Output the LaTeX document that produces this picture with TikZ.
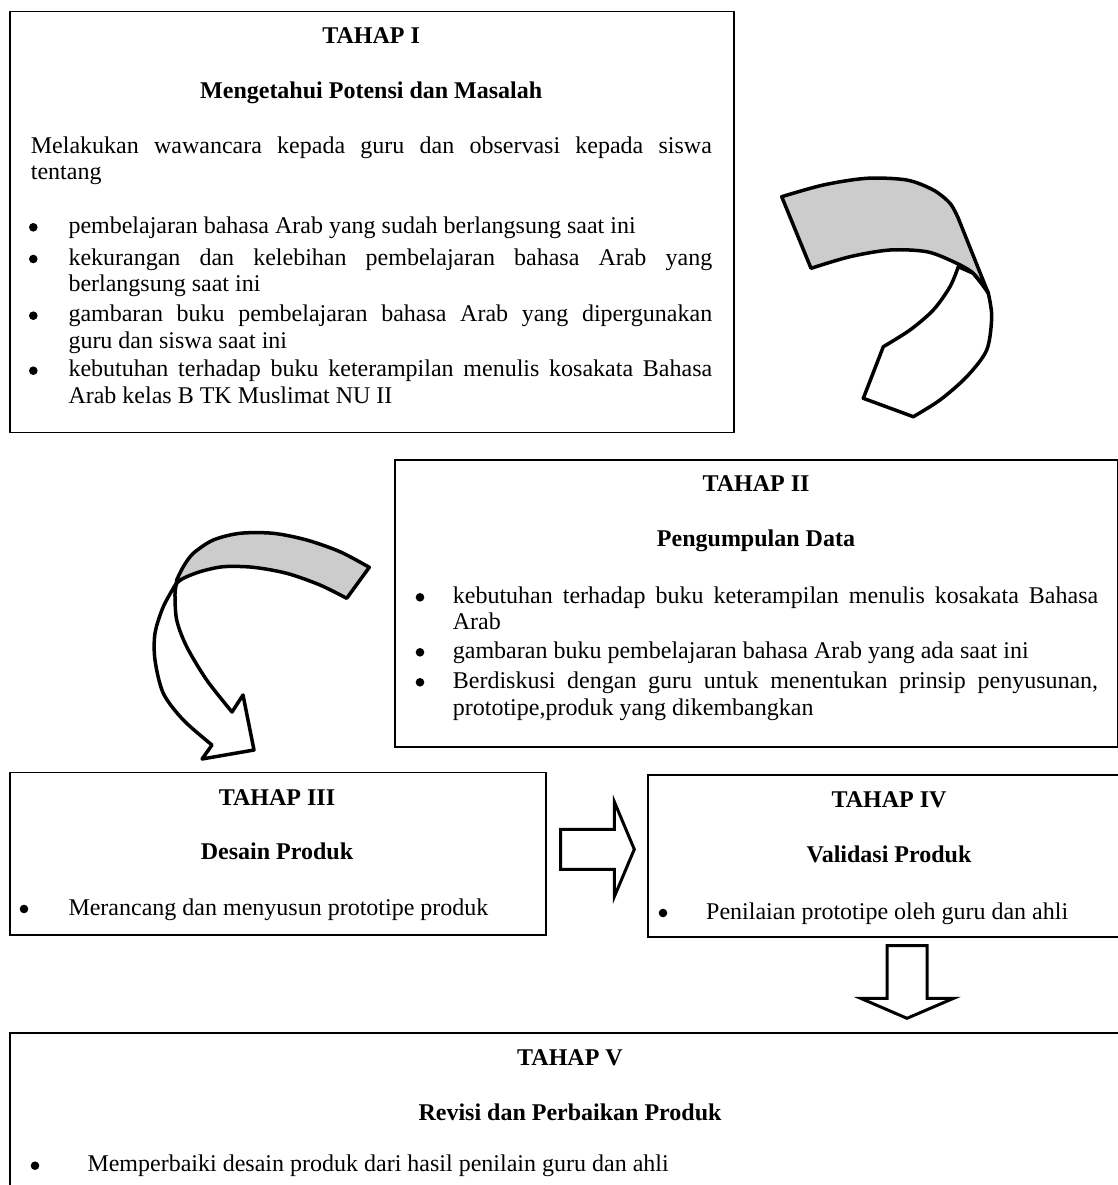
\documentclass[tikz,border=0pt]{standalone}
\usepackage{fontspec}
\setmainfont{Liberation Serif}
\definecolor{bandgray}{RGB}{204,204,204}
\newcommand\bodyfont{\fontsize{24}{26.7}\selectfont}
\begin{document}
\begin{tikzpicture}[x=1pt,y=-1pt,
 box/.style={draw, line width=1.5pt, inner sep=0, anchor=north west},
 txt/.style={inner sep=0, anchor=base west, font=\bodyfont},
 ttl/.style={inner sep=0, anchor=base, font=\bodyfont\bfseries},
 dot/.style={circle, fill, inner sep=0, minimum size=8.6pt},
 ribbon/.style={draw, line width=3.5pt, line join=round},
 blockarrow/.style={draw, line width=3pt, fill=white, line join=miter}]
\useasboundingbox (0,0) rectangle (1118,1185);
\clip (0,0) rectangle (1118,1185);

% ---------- TAHAP I ----------
\node[box, minimum width=723.7, minimum height=421] (b1) at (9.3,10.7) {};
\node[ttl] (t1a) at (371.2,44) {TAHAP I};
\node[ttl] (t1b) at (371.2,98.3) {Mengetahui Potensi dan Masalah};
\node[txt] (p1a) at (30.7,153.3) {\makebox[681pt][s]{Melakukan wawancara kepada guru dan observasi kepada siswa}};
\node[txt] (p1b) at (30.7,179.3) {tentang};
\node[dot] (u11) at (33.3,227.3) {};
\node[txt] (i11) at (68.3,233.3) {pembelajaran bahasa Arab yang sudah berlangsung saat ini};
\node[dot] (u12) at (33.3,259) {};
\node[txt] (i12a) at (68.3,265) {\makebox[643.7pt][s]{kekurangan dan kelebihan pembelajaran bahasa Arab yang}};
\node[txt] (i12b) at (68.3,291.7) {berlangsung saat ini};
\node[dot] (u13) at (33.3,315.7) {};
\node[txt] (i13a) at (68.3,321.7) {\makebox[643.7pt][s]{gambaran buku pembelajaran bahasa Arab yang dipergunakan}};
\node[txt] (i13b) at (68.3,348.3) {guru dan siswa saat ini};
\node[dot] (u14) at (33.3,370.7) {};
\node[txt] (i14a) at (68.3,376.7) {\makebox[643.7pt][s]{kebutuhan terhadap buku keterampilan menulis kosakata Bahasa}};
\node[txt] (i14b) at (68.3,403.3) {Arab kelas B TK Muslimat NU II};

% ---------- TAHAP II ----------
\node[box, minimum width=722.5, minimum height=287] (b2) at (394,459) {};
\node[ttl] (t2a) at (756,491.7) {TAHAP II};
\node[ttl] (t2b) at (756,546) {Pengumpulan Data};
\node[dot] (u21) at (420,597.3) {};
\node[txt] (i21a) at (452.7,603.3) {\makebox[645.3pt][s]{kebutuhan terhadap buku keterampilan menulis kosakata Bahasa}};
\node[txt] (i21b) at (452.7,629.3) {Arab};
\node[dot] (u22) at (420,652.3) {};
\node[txt] (i22) at (452.7,658.3) {gambaran buku pembelajaran bahasa Arab yang ada saat ini};
\node[dot] (u23) at (420,682.3) {};
\node[txt] (i23a) at (452.7,688.3) {\makebox[645.3pt][s]{Berdiskusi dengan guru untuk menentukan prinsip penyusunan,}};
\node[txt] (i23b) at (452.7,715) {prototipe,produk yang dikembangkan};

% ---------- TAHAP III ----------
\node[box, minimum width=535.7, minimum height=162.6] (b3) at (9.3,771.7) {};
\node[ttl] (t3a) at (277,805) {TAHAP III};
\node[ttl] (t3b) at (277,859) {Desain Produk};
\node[dot] (u31) at (24,909) {};
\node[txt] (i31) at (68.3,915) {Merancang dan menyusun prototipe produk};

% ---------- TAHAP IV ----------
\node[box, minimum width=484, minimum height=162] (b4) at (647,774) {};
\node[ttl] (t4a) at (889,807) {TAHAP IV};
\node[ttl] (t4b) at (889,862) {Validasi Produk};
\node[dot] (u41) at (663,913) {};
\node[txt] (i41) at (706,919) {Penilaian prototipe oleh guru dan ahli};

% ---------- TAHAP V ----------
\node[box, minimum width=1121.7, minimum height=170] (b5) at (9.3,1032.3) {};
\node[ttl] (t5a) at (570,1065) {TAHAP V};
\node[ttl] (t5b) at (570,1120) {Revisi dan Perbaikan Produk};
\node[dot] (u51) at (35,1165.7) {};
\node[txt] (i51) at (87.3,1171.7) {Memperbaiki desain produk dari hasil penilain guru dan ahli};

% ---------- curved arrow I -> II (top right) ----------
\path[ribbon, fill=white]
  plot[smooth] coordinates {(988.3,293.3) (991.7,316.7) (986.7,350) (966.7,376.7) (940,400) (913.3,416.7)}
  -- (863.3,398.3) -- (883.3,346.7)
  -- plot[smooth] coordinates {(883.3,346.7) (910,330) (933.3,310) (950,286.7) (958.3,266.7)}
  -- (973.3,273.3) -- (986.7,290) -- cycle;
\path[ribbon, fill=bandgray]
  plot[smooth] coordinates {(781.7,196.7) (823.3,185) (866.7,178.3) (906.7,180) (933.3,190) (950,203.3) (958.3,218.3)}
  -- (988.3,293.3)
  -- plot[smooth] coordinates {(988.3,293.3) (973.3,273.3) (953.3,261.7) (926.7,251.7) (890,250) (850,256.7) (811,268.3)}
  -- cycle;

% ---------- curved arrow II -> III (lower left) ----------
\path[ribbon, fill=white]
  plot[smooth] coordinates {(177,582) (163.3,606.7) (155,633.3) (155,660) (163.3,693.3) (183.3,720) (212,745)}
  -- (202,759) -- (254,750) -- (243,695) -- (232,712)
  -- plot[smooth] coordinates {(232,712) (206.7,680) (186.7,646.7) (176.7,620) (175,593.3) (177,582)}
  -- cycle;
\path[ribbon, fill=bandgray]
  plot[smooth] coordinates {(369.3,567.3) (340,551.7) (306.7,540) (273.3,533.3) (240,533.3) (213.3,540) (193.3,553.3) (183.3,566.7) (176.7,580)}
  -- plot[smooth] coordinates {(176.7,583.3) (183.3,578.3) (200,571.7) (223.3,566.7) (253.3,567.3) (286.7,573.3) (320,585) (346.7,598.3)}
  -- cycle;

% ---------- block arrow III -> IV ----------
\path[blockarrow] (560.7,829.3) -- (614.3,829.3) -- (614.3,801.7) -- (634.3,849.3)
  -- (614.3,896.7) -- (614.3,869.3) -- (560.7,869.3) -- cycle;

% ---------- block arrow IV -> V ----------
\path[blockarrow] (887,945.7) -- (927,945.7) -- (927,998.3) -- (953.6,998.3)
  -- (907,1018.3) -- (860.7,998.3) -- (887,998.3) -- cycle;
\end{tikzpicture}
\end{document}
